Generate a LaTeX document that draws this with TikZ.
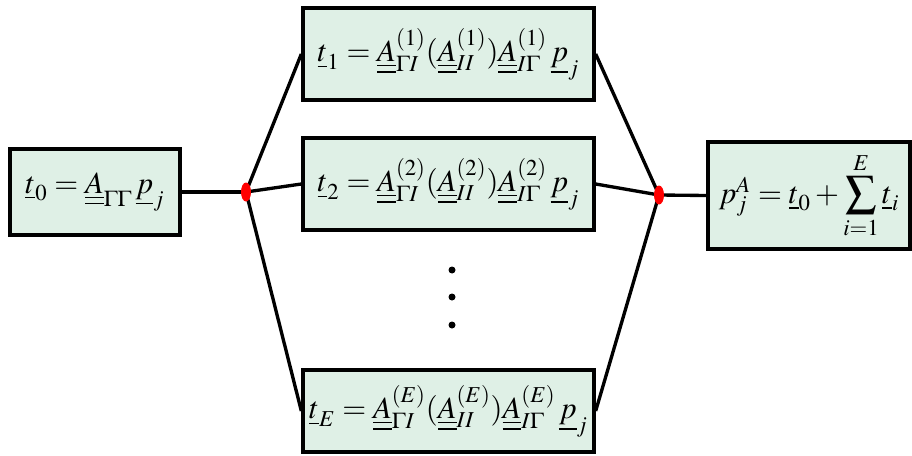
\documentclass[tikz,border=0pt]{standalone}
\usepackage{amsmath}
\usepackage{mathptmx}
\usepackage{xcolor}
\usepackage{tikz}
\usetikzlibrary{positioning,shapes.geometric}
\definecolor{verdino}{RGB}{223,240,230}
\newcommand{\vett}[1]{\underline{#1}}
\newcommand{\matr}[1]{\underline{\underline{#1}}}
\tikzset{
  scatola/.style={draw,line width=1.9pt,fill=verdino,inner sep=0pt,
    font=\fontsize{17.5}{21}\selectfont},
  nodino/.style={ellipse,fill=red,inner sep=0pt,minimum width=10*0.02cm,minimum height=19*0.02cm},
  filo/.style={line width=1.9pt}
}

\begin{document}
\begin{tikzpicture}[x=0.02cm,y=-0.02cm]
\useasboundingbox (0,0) rectangle (912,456);
% sinistra
\node[scatola,minimum width=170*0.02cm,minimum height=86*0.02cm] (t0) at (95,192)
  {$\vett{t}_0=\matr{A}_{\Gamma\Gamma}\,\vett{p}_j$};
\coordinate (s) at (246,192);
% centro
\node[scatola,minimum width=291*0.02cm,minimum height=92*0.02cm] (t1) at (448.5,54)
  {$\vett{t}_1=\matr{A}^{(1)}_{\Gamma I}(\matr{A}^{(1)}_{II})\matr{A}^{(1)}_{I\Gamma}\,\vett{p}_j$};
\node[scatola,minimum width=291*0.02cm,minimum height=92*0.02cm] (t2) at (448.5,184)
  {$\vett{t}_2=\matr{A}^{(2)}_{\Gamma I}(\matr{A}^{(2)}_{II})\matr{A}^{(2)}_{I\Gamma}\,\vett{p}_j$};
\node[scatola,minimum width=291*0.02cm,minimum height=82*0.02cm] (tE) at (448.5,411)
  {$\vett{t}_E=\matr{A}^{(E)}_{\Gamma I}(\matr{A}^{(E)}_{II})\matr{A}^{(E)}_{I\Gamma}\,\vett{p}_j$};
\foreach \y in {270,297,325}
  \fill (452,\y) circle (3.5);
% destra
\coordinate (d) at (659,195);
\node[scatola,minimum width=202*0.02cm,minimum height=107*0.02cm] (pA) at (809,195.5)
  {$p^{A}_j=\vett{t}_0+\displaystyle\sum_{i=1}^{E}\vett{t}_i$};
% collegamenti
\draw[filo] (t0.east) -- (s);
\draw[filo] (s) -- (t1.west);
\draw[filo] (s) -- (t2.west);
\draw[filo] (s) -- (tE.west);
\draw[filo] (t1.east) -- (d);
\draw[filo] (t2.east) -- (d);
\draw[filo] (tE.east) -- (d);
\draw[filo] (d) -- (pA.west);
\node[nodino] (ps) at (s) {};
\node[nodino] (pd) at (d) {};
\end{tikzpicture}
\end{document}
